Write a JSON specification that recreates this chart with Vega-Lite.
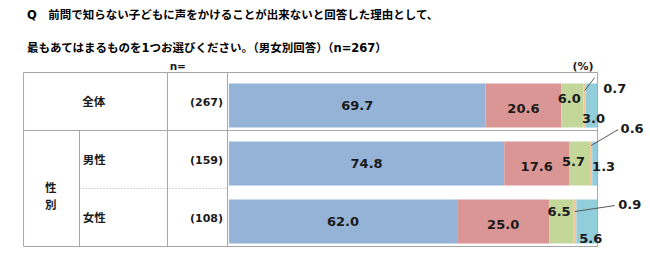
{
  "$schema": "https://vega.github.io/schema/vega-lite/v6.json",
  "width": 650,
  "height": 203,
  "autosize": "none",
  "padding": {"top": 58, "left": 0, "right": 0, "bottom": 12},
  "background": "white",
  "config": {"view": {"stroke": null}},
  "title": {
    "text": ["Q　前問で知らない子どもに声をかけることが出来ないと回答した理由として、", "最もあてはまるものを1つお選びください。（男女別回答）（n=267）"],
    "anchor": "start",
    "frame": "group",
    "dx": 27,
    "offset": 4,
    "fontSize": 11.5,
    "fontWeight": "bold",
    "font": "DejaVu Sans, Noto Sans CJK JP",
    "lineHeight": 33,
    "color": "#000000"
  },
  "datasets": {
    "bars": [
      {"group": "全体", "cat": "選択肢1", "k": 1, "value": 69.7},
      {"group": "全体", "cat": "選択肢2", "k": 2, "value": 20.6},
      {"group": "全体", "cat": "選択肢3", "k": 3, "value": 6.0},
      {"group": "全体", "cat": "選択肢4", "k": 4, "value": 0.7},
      {"group": "全体", "cat": "選択肢5", "k": 5, "value": 3.0},
      {"group": "男性", "cat": "選択肢1", "k": 1, "value": 74.8},
      {"group": "男性", "cat": "選択肢2", "k": 2, "value": 17.6},
      {"group": "男性", "cat": "選択肢3", "k": 3, "value": 5.7},
      {"group": "男性", "cat": "選択肢4", "k": 4, "value": 0.6},
      {"group": "男性", "cat": "選択肢5", "k": 5, "value": 1.3},
      {"group": "女性", "cat": "選択肢1", "k": 1, "value": 62.0},
      {"group": "女性", "cat": "選択肢2", "k": 2, "value": 25.0},
      {"group": "女性", "cat": "選択肢3", "k": 3, "value": 6.5},
      {"group": "女性", "cat": "選択肢4", "k": 4, "value": 0.9},
      {"group": "女性", "cat": "選択肢5", "k": 5, "value": 5.6}
    ],
    "groups": [
      {"group": "全体", "n": 267},
      {"group": "男性", "n": 159},
      {"group": "女性", "n": 108}
    ],
    "one": [{}]
  },
  "layer": [
    {
      "data": {"name": "one"},
      "layer": [
        {"mark": {"type": "rule", "color": "#a6a6a6", "strokeWidth": 1},
         "encoding": {
           "x": {"datum": -55.8, "type": "quantitative", "scale": {"domain": [-62.2, 114.4], "nice": false, "zero": false}, "axis": null},
           "x2": {"datum": 100.15},
           "y": {"datum": 0, "type": "quantitative", "scale": {"domain": [-0.25, 3.25], "reverse": true, "nice": false, "zero": false}, "axis": null}}},
        {"mark": {"type": "rule", "color": "#a6a6a6", "strokeWidth": 1},
         "encoding": {
           "x": {"datum": -55.8, "type": "quantitative"},
           "x2": {"datum": 100.15},
           "y": {"datum": 1, "type": "quantitative"}}},
        {"mark": {"type": "rule", "color": "#a6a6a6", "strokeWidth": 1},
         "encoding": {
           "x": {"datum": -55.8, "type": "quantitative"},
           "x2": {"datum": 100.15},
           "y": {"datum": 3, "type": "quantitative"}}},
        {"mark": {"type": "rule", "color": "#a6a6a6", "strokeWidth": 1, "strokeDash": [1, 2]},
         "encoding": {
           "x": {"datum": -40.6, "type": "quantitative"},
           "x2": {"datum": -0.4},
           "y": {"datum": 2, "type": "quantitative"}}},
        {"mark": {"type": "rule", "color": "#a6a6a6", "strokeWidth": 1},
         "encoding": {
           "x": {"datum": -55.8, "type": "quantitative"},
           "y": {"datum": 0, "type": "quantitative"},
           "y2": {"datum": 3}}},
        {"mark": {"type": "rule", "color": "#a6a6a6", "strokeWidth": 1},
         "encoding": {
           "x": {"datum": -40.6, "type": "quantitative"},
           "y": {"datum": 1, "type": "quantitative"},
           "y2": {"datum": 3}}},
        {"mark": {"type": "rule", "color": "#a6a6a6", "strokeWidth": 1},
         "encoding": {
           "x": {"datum": -16.7, "type": "quantitative"},
           "y": {"datum": 0, "type": "quantitative"},
           "y2": {"datum": 3}}},
        {"mark": {"type": "rule", "color": "#a6a6a6", "strokeWidth": 1},
         "encoding": {
           "x": {"datum": -0.4, "type": "quantitative"},
           "y": {"datum": 0, "type": "quantitative"},
           "y2": {"datum": 3}}},
        {"mark": {"type": "rule", "color": "#a6a6a6", "strokeWidth": 1},
         "encoding": {
           "x": {"datum": 100.15, "type": "quantitative"},
           "y": {"datum": 0, "type": "quantitative"},
           "y2": {"datum": 3}}},
        {"mark": {"type": "text", "text": "n=", "fontSize": 10.5, "fontWeight": "bold", "font": "DejaVu Sans, Noto Sans CJK JP", "color": "#1a1a1a", "align": "center", "baseline": "middle"},
         "encoding": {
           "x": {"datum": -13.9, "type": "quantitative"},
           "y": {"datum": -0.095, "type": "quantitative"}}},
        {"mark": {"type": "text", "text": "(%)", "fontSize": 11, "fontWeight": "bold", "font": "DejaVu Sans, Noto Sans CJK JP", "color": "#1a1a1a", "align": "center", "baseline": "middle"},
         "encoding": {
           "x": {"datum": 96.2, "type": "quantitative"},
           "y": {"datum": -0.095, "type": "quantitative"}}},
        {"mark": {"type": "text", "text": ["性", "別"], "lineHeight": 17, "fontSize": 11.5, "fontWeight": "bold", "font": "Noto Sans CJK JP", "color": "#1a1a1a", "align": "center", "baseline": "middle"},
         "encoding": {
           "x": {"datum": -48.4, "type": "quantitative"},
           "y": {"datum": 2.01, "type": "quantitative"}}}
      ]
    },
    {
      "data": {"name": "groups"},
      "transform": [
        {"calculate": "indexof(['全体','男性','女性'], datum.group)", "as": "r"},
        {"calculate": "datum.r + 0.52", "as": "yc"},
        {"calculate": "'(' + datum.n + ')'", "as": "nlabel"}
      ],
      "layer": [
        {"transform": [{"filter": "datum.r == 0"}],
         "mark": {"type": "text", "fontSize": 11.5, "fontWeight": "bold", "font": "Noto Sans CJK JP", "color": "#1a1a1a", "align": "center", "baseline": "middle"},
         "encoding": {
           "x": {"datum": -36.7, "type": "quantitative"},
           "y": {"field": "yc", "type": "quantitative"},
           "text": {"field": "group"}}},
        {"transform": [{"filter": "datum.r > 0"}],
         "mark": {"type": "text", "fontSize": 11.5, "fontWeight": "bold", "font": "Noto Sans CJK JP", "color": "#1a1a1a", "align": "left", "baseline": "middle"},
         "encoding": {
           "x": {"datum": -39.7, "type": "quantitative"},
           "y": {"field": "yc", "type": "quantitative"},
           "text": {"field": "group"}}},
        {"mark": {"type": "text", "fontSize": 11, "fontWeight": "bold", "font": "DejaVu Sans", "color": "#1a1a1a", "align": "right", "baseline": "middle"},
         "encoding": {
           "x": {"datum": -1.6, "type": "quantitative"},
           "y": {"field": "yc", "type": "quantitative"},
           "text": {"field": "nlabel"}}}
      ]
    },
    {
      "data": {"name": "bars"},
      "transform": [
        {"calculate": "indexof(['全体','男性','女性'], datum.group)", "as": "r"},
        {"stack": "value", "groupby": ["group"], "sort": [{"field": "k", "order": "ascending"}], "as": ["v0", "v1"]},
        {"calculate": "(datum.v0 + datum.v1) / 2", "as": "mid"},
        {"calculate": "datum.r + 0.19", "as": "yt"},
        {"calculate": "datum.r + 0.95", "as": "yb"},
        {"calculate": "datum.r + 0.57", "as": "yc"}
      ],
      "layer": [
        {"mark": {"type": "bar"},
         "encoding": {
           "x": {"field": "v0", "type": "quantitative"},
           "x2": {"field": "v1"},
           "y": {"field": "yt", "type": "quantitative"},
           "y2": {"field": "yb"},
           "color": {"field": "cat", "type": "nominal", "legend": null,
             "scale": {"domain": ["選択肢1", "選択肢2", "選択肢3", "選択肢4", "選択肢5"], "range": ["#95b3d7", "#da9694", "#c4d79b", "#f7c79c", "#92cddc"]}}}},
        {"transform": [{"filter": "datum.k == 1"}],
         "mark": {"type": "text", "fontSize": 13, "fontWeight": "bold", "font": "DejaVu Sans", "color": "#1a1a1a", "align": "center", "baseline": "middle", "dy": 0},
         "encoding": {
           "x": {"field": "mid", "type": "quantitative"},
           "y": {"field": "yc", "type": "quantitative"},
           "text": {"field": "value", "type": "quantitative", "format": ".1f"}}},
        {"transform": [{"filter": "datum.k == 2"}],
         "mark": {"type": "text", "fontSize": 13, "fontWeight": "bold", "font": "DejaVu Sans", "color": "#1a1a1a", "align": "center", "baseline": "middle", "dy": 3},
         "encoding": {
           "x": {"field": "mid", "type": "quantitative"},
           "y": {"field": "yc", "type": "quantitative"},
           "text": {"field": "value", "type": "quantitative", "format": ".1f"}}},
        {"transform": [{"filter": "datum.k == 3 && datum.r == 0"}],
         "mark": {"type": "text", "fontSize": 13, "fontWeight": "bold", "font": "DejaVu Sans", "color": "#1a1a1a", "align": "center", "baseline": "middle", "dx": -3, "dy": -7},
         "encoding": {
           "x": {"field": "mid", "type": "quantitative"},
           "y": {"field": "yc", "type": "quantitative"},
           "text": {"field": "value", "type": "quantitative", "format": ".1f"}}},
        {"transform": [{"filter": "datum.k == 3 && datum.r == 1"}],
         "mark": {"type": "text", "fontSize": 13, "fontWeight": "bold", "font": "DejaVu Sans", "color": "#1a1a1a", "align": "center", "baseline": "middle", "dx": -6, "dy": -2},
         "encoding": {
           "x": {"field": "mid", "type": "quantitative"},
           "y": {"field": "yc", "type": "quantitative"},
           "text": {"field": "value", "type": "quantitative", "format": ".1f"}}},
        {"transform": [{"filter": "datum.k == 3 && datum.r == 2"}],
         "mark": {"type": "text", "fontSize": 13, "fontWeight": "bold", "font": "DejaVu Sans", "color": "#1a1a1a", "align": "center", "baseline": "middle", "dx": -2, "dy": -10},
         "encoding": {
           "x": {"field": "mid", "type": "quantitative"},
           "y": {"field": "yc", "type": "quantitative"},
           "text": {"field": "value", "type": "quantitative", "format": ".1f"}}},
        {"transform": [{"filter": "datum.k == 5 && datum.r == 0"}],
         "mark": {"type": "text", "fontSize": 13, "fontWeight": "bold", "font": "DejaVu Sans", "color": "#1a1a1a", "align": "center", "baseline": "middle", "dx": 2, "dy": 13},
         "encoding": {
           "x": {"field": "mid", "type": "quantitative"},
           "y": {"field": "yc", "type": "quantitative"},
           "text": {"field": "value", "type": "quantitative", "format": ".1f"}}},
        {"transform": [{"filter": "datum.k == 5 && datum.r == 1"}],
         "mark": {"type": "text", "fontSize": 13, "fontWeight": "bold", "font": "DejaVu Sans", "color": "#1a1a1a", "align": "center", "baseline": "middle", "dx": 9, "dy": 3},
         "encoding": {
           "x": {"field": "mid", "type": "quantitative"},
           "y": {"field": "yc", "type": "quantitative"},
           "text": {"field": "value", "type": "quantitative", "format": ".1f"}}},
        {"transform": [{"filter": "datum.k == 5 && datum.r == 2"}],
         "mark": {"type": "text", "fontSize": 13, "fontWeight": "bold", "font": "DejaVu Sans", "color": "#1a1a1a", "align": "center", "baseline": "middle", "dx": 4, "dy": 17},
         "encoding": {
           "x": {"field": "mid", "type": "quantitative"},
           "y": {"field": "yc", "type": "quantitative"},
           "text": {"field": "value", "type": "quantitative", "format": ".1f"}}},
        {"transform": [{"filter": "datum.k == 4 && datum.r == 0"}],
         "mark": {"type": "rule", "color": "#595959", "strokeWidth": 1, "yOffset": -15, "x2Offset": 10, "y2Offset": -28},
         "encoding": {
           "x": {"field": "mid", "type": "quantitative"},
           "x2": {"field": "mid"},
           "y": {"field": "yc", "type": "quantitative"},
           "y2": {"field": "yc"}}},
        {"transform": [{"filter": "datum.k == 4 && datum.r == 1"}],
         "mark": {"type": "rule", "color": "#595959", "strokeWidth": 1, "yOffset": -18, "x2Offset": 27, "y2Offset": -34},
         "encoding": {
           "x": {"field": "mid", "type": "quantitative"},
           "x2": {"field": "mid"},
           "y": {"field": "yc", "type": "quantitative"},
           "y2": {"field": "yc"}}},
        {"transform": [{"filter": "datum.k == 4 && datum.r == 2"}],
         "mark": {"type": "rule", "color": "#595959", "strokeWidth": 1, "yOffset": -10, "x2Offset": 40, "y2Offset": -16},
         "encoding": {
           "x": {"field": "mid", "type": "quantitative"},
           "x2": {"field": "mid"},
           "y": {"field": "yc", "type": "quantitative"},
           "y2": {"field": "yc"}}},
        {"transform": [{"filter": "datum.k == 4 && datum.r == 0"}],
         "mark": {"type": "text", "fontSize": 13, "fontWeight": "bold", "font": "DejaVu Sans", "color": "#1a1a1a", "align": "center", "baseline": "middle", "dx": 30, "dy": -17},
         "encoding": {
           "x": {"field": "mid", "type": "quantitative"},
           "y": {"field": "yc", "type": "quantitative"},
           "text": {"field": "value", "type": "quantitative", "format": ".1f"}}},
        {"transform": [{"filter": "datum.k == 4 && datum.r == 1"}],
         "mark": {"type": "text", "fontSize": 13, "fontWeight": "bold", "font": "DejaVu Sans", "color": "#1a1a1a", "align": "center", "baseline": "middle", "dx": 41, "dy": -35},
         "encoding": {
           "x": {"field": "mid", "type": "quantitative"},
           "y": {"field": "yc", "type": "quantitative"},
           "text": {"field": "value", "type": "quantitative", "format": ".1f"}}},
        {"transform": [{"filter": "datum.k == 4 && datum.r == 2"}],
         "mark": {"type": "text", "fontSize": 13, "fontWeight": "bold", "font": "DejaVu Sans", "color": "#1a1a1a", "align": "center", "baseline": "middle", "dx": 55, "dy": -17},
         "encoding": {
           "x": {"field": "mid", "type": "quantitative"},
           "y": {"field": "yc", "type": "quantitative"},
           "text": {"field": "value", "type": "quantitative", "format": ".1f"}}}
      ]
    }
  ]
}
